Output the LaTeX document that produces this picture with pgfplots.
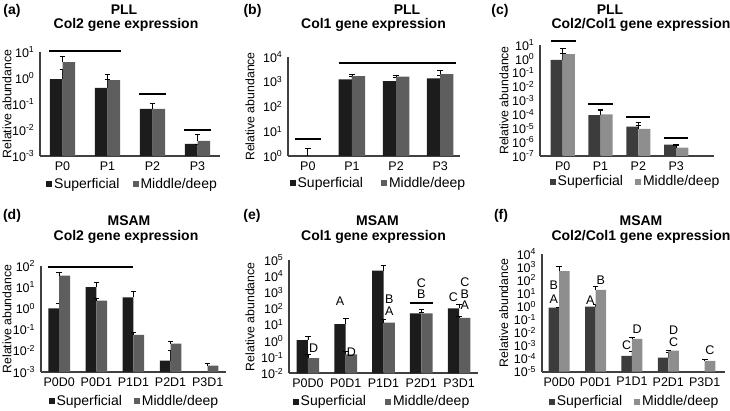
\documentclass[border=0pt]{standalone}
\usepackage{fontspec}
\setmainfont{Liberation Sans}
\usepackage{pgfplots}
\pgfplotsset{compat=1.18}

\definecolor{barA}{HTML}{1C1C1C}
\definecolor{barB}{HTML}{5E5E5E}
\definecolor{barC}{HTML}{3C3C3C}
\definecolor{barD}{HTML}{8E8E8E}
\definecolor{axgray}{HTML}{404040}

\newcommand{\tenp}[1]{10\textsuperscript{#1}}

\tikzset{
  ttl/.style={font=\fontsize{14}{16}\selectfont\bfseries},
  lett/.style={font=\fontsize{12.5}{14}\selectfont},
  sig/.style={black, line width=2pt},
}
\pgfplotsset{
  every axis/.append style={
    scale only axis, anchor=south west, clip=false,
    ymode=log, log origin=infty,
    axis x line=bottom, axis y line=left,
    axis line style={-, line width=2pt, draw=axgray},
    tick style={draw=none},
    ylabel={Relative abundance},
    label style={font=\fontsize{12.3}{14}\selectfont},
    xticklabel style={font=\fontsize{12.5}{14}\selectfont},
    yticklabel style={font=\fontsize{12.5}{14}\selectfont},
    legend columns=2,
    legend style={draw=none, fill=none, anchor=center, font=\fontsize{14}{16}\selectfont},
    legend image code/.code={\fill[##1] (0pt,-3pt) rectangle (6pt,3pt);},
    error bars/y dir=plus, error bars/y explicit,
    error bars/error mark=-,
    error bars/error bar style={line width=0.8pt, black},
    error bars/error mark options={rotate=90, line width=0.8pt, mark size=2.8pt, black},
  },
}

\begin{document}
\begin{tikzpicture}
\useasboundingbox (0,0) rectangle (730pt,411pt);

% ---------------- (a) PLL Col2
\node[ttl] at (12pt,400pt) {(a)};
\node[ttl] at (124pt,401pt) {PLL};
\node[ttl] at (126pt,386.5pt) {Col2 gene expression};
\begin{axis}[at={(40pt,255pt)}, width=180pt, height=104pt,
  xmin=-0.5, xmax=3.5, ymin=1e-3, ymax=10,
  xtick={0,1,2,3}, xticklabels={P0,P1,P2,P3},
  ytick={1e-3,1e-2,1e-1,1,10}, yticklabels={\tenp{-3},\tenp{-2},\tenp{-1},\tenp{0},\tenp{1}},
  ylabel style={at={(axis description cs:-0.183,0.5)}, anchor=center},
  legend style={at={(0.514,-0.269)}, /tikz/every even column/.append style={column sep=11pt}}]
\addplot[ybar, bar width=0.28, bar shift=-0.14, draw=none, fill=barA] table[x=x,y=y,y error=e]{
x y e
0 0.9 1.3
1 0.42 0.48
2 0.065 0.045
3 0.0029 0
};
\addlegendentry{Superficial}
\addplot[ybar, bar width=0.28, bar shift=0.14, draw=none, fill=barB] table[x=x,y=y,y error=e]{
x y e
0 4.1 2.9
1 0.83 0.57
2 0.065 0.045
3 0.0038 0.0027
};
\addlegendentry{Middle/deep}
\addplot[sig, forget plot] coordinates {(-0.3,11) (1.3,11)};
\addplot[sig, forget plot] coordinates {(1.7,0.24) (2.3,0.24)};
\addplot[sig, forget plot] coordinates {(2.7,0.01) (3.3,0.01)};
\end{axis}

% ---------------- (b) PLL Col1
\node[ttl] at (252.5pt,400pt) {(b)};
\node[ttl] at (407pt,401pt) {PLL};
\node[ttl] at (373.5pt,386.5pt) {Col1 gene expression};
\begin{axis}[at={(288pt,255pt)}, width=172pt, height=99pt,
  xmin=-0.45, xmax=3.45, ymin=1, ymax=1e4,
  xtick={0,1,2,3}, xticklabels={P0,P1,P2,P3},
  ytick={1,10,100,1000,10000}, yticklabels={\tenp{0},\tenp{1},\tenp{2},\tenp{3},\tenp{4}},
  ylabel style={at={(axis description cs:-0.221,0.5)}, anchor=center},
  legend style={at={(0.526,-0.273)}, /tikz/every even column/.append style={column sep=16pt}}]
\addplot[ybar, bar width=0.3, bar shift=-0.15, draw=none, fill=barA] table[x=x,y=y,y error=e]{
x y e
0 1.02 1.08
1 1250 350
2 1070 430
3 1380 370
};
\addlegendentry{Superficial}
\addplot[ybar, bar width=0.3, bar shift=0.15, draw=none, fill=barB] table[x=x,y=y,y error=e]{
x y e
0 1.02 1.08
1 1700 200
2 1600 220
3 2050 750
};
\addlegendentry{Middle/deep}
\addplot[sig, forget plot] coordinates {(-0.3,4.7) (0.3,4.7)};
\addplot[sig, forget plot] coordinates {(0.7,5900) (3.35,5900)};
\end{axis}

% ---------------- (c) PLL Col2/Col1
\node[ttl] at (500pt,400pt) {(c)};
\node[ttl] at (610pt,401pt) {PLL};
\node[ttl] at (641pt,386.5pt) {Col2/Col1 gene expression};
\begin{axis}[at={(540pt,255pt)}, width=174pt, height=111pt,
  xmin=-0.6, xmax=4.0, ymin=1e-7, ymax=10,
  xtick={0,1,2,3}, xticklabels={P0,P1,P2,P3},
  ytick={1e-7,1e-6,1e-5,1e-4,1e-3,1e-2,1e-1,1,10},
  yticklabels={\tenp{-7},\tenp{-6},\tenp{-5},\tenp{-4},\tenp{-3},\tenp{-2},\tenp{-1},\tenp{0},\tenp{1}},
  ylabel style={at={(axis description cs:-0.207,0.5)}, anchor=center},
  legend style={at={(0.549,-0.23)}, /tikz/every even column/.append style={column sep=10pt}}]
\addplot[ybar, bar width=0.32, bar shift=-0.16, draw=none, fill=barC] table[x=x,y=y,y error=e]{
x y e
0 0.83 1.47
1 9e-5 1.2e-4
2 1.3e-5 1.3e-5
3 6.5e-7 0
};
\addlegendentry{Superficial}
\addplot[ybar, bar width=0.32, bar shift=0.16, draw=none, fill=barD] table[x=x,y=y,y error=e]{
x y e
0 2.2 3.6
1 1.0e-4 0.8e-4
2 9e-6 8e-6
3 4e-7 1.7e-7
};
\addlegendentry{Middle/deep}
\addplot[sig, forget plot] coordinates {(-0.3,20) (0.35,20)};
\addplot[sig, forget plot] coordinates {(0.68,5.7e-4) (1.32,5.7e-4)};
\addplot[sig, forget plot] coordinates {(1.68,6.3e-5) (2.32,6.3e-5)};
\addplot[sig, forget plot] coordinates {(2.68,1.9e-6) (3.32,1.9e-6)};
\end{axis}

% ---------------- (d) MSAM Col2
\node[ttl] at (12pt,195pt) {(d)};
\node[ttl] at (129pt,190pt) {MSAM};
\node[ttl] at (126pt,174pt) {Col2 gene expression};
\begin{axis}[at={(40.7pt,39pt)}, width=185.5pt, height=106pt,
  xmin=-0.5, xmax=4.5, ymin=1e-3, ymax=100,
  xtick={0,1,2,3,4}, xticklabels={P0D0,P0D1,P1D1,P2D1,P3D1},
  ytick={1e-3,1e-2,1e-1,1,10,100}, yticklabels={\tenp{-3},\tenp{-2},\tenp{-1},\tenp{0},\tenp{1},\tenp{2}},
  ylabel style={at={(axis description cs:-0.182,0.5)}, anchor=center},
  legend style={at={(0.505,-0.274)}, /tikz/every even column/.append style={column sep=10pt}}]
\addplot[ybar, bar width=0.29, bar shift=-0.145, draw=none, fill=barA] table[x=x,y=y,y error=e]{
x y e
0 1.0 0.7
1 10 6
2 3.3 2.9
3 0.0034 0.0066
};
\addlegendentry{Superficial}
\addplot[ybar, bar width=0.29, bar shift=0.145, draw=none, fill=barB] table[x=x,y=y,y error=e]{
x y e
0 35 15
1 2.3 0.7
2 0.056 0.018
3 0.022 0.005
4 0.002 0.0005
};
\addlegendentry{Middle/deep}
\addplot[sig, forget plot] coordinates {(-0.29,87) (2.0,87)};
\end{axis}

% ---------------- (e) MSAM Col1
\node[ttl] at (252pt,195pt) {(e)};
\node[ttl] at (377.5pt,190pt) {MSAM};
\node[ttl] at (373.5pt,174pt) {Col1 gene expression};
\begin{axis}[at={(289pt,37.5pt)}, width=189pt, height=113.5pt,
  xmin=-0.5, xmax=4.5, ymin=1e-2, ymax=1e5,
  xtick={0,1,2,3,4}, xticklabels={P0D0,P0D1,P1D1,P2D1,P3D1},
  ytick={1e-2,1e-1,1,10,100,1000,1e4,1e5},
  yticklabels={\tenp{-2},\tenp{-1},\tenp{0},\tenp{1},\tenp{2},\tenp{3},\tenp{4},\tenp{5}},
  ylabel style={at={(axis description cs:-0.206,0.5)}, anchor=center},
  legend style={at={(0.492,-0.248)}, /tikz/every even column/.append style={column sep=17pt}}]
\addplot[ybar, bar width=0.3, bar shift=-0.15, draw=none, fill=barA] table[x=x,y=y,y error=e]{
x y e
0 1.15 0.85
1 11 14
2 22000 23000
3 51 40
4 105 81
};
\addlegendentry{Superficial}
\addplot[ybar, bar width=0.3, bar shift=0.15, draw=none, fill=barB] table[x=x,y=y,y error=e]{
x y e
0 0.09 0.06
1 0.15 0.09
2 13.5 8.5
3 51 8
4 27 5
};
\addlegendentry{Middle/deep}
\addplot[sig, forget plot] coordinates {(2.7,215) (3.3,215)};
\node[lett] at (axis cs:0.15,0.35) {D};
\node[lett] at (axis cs:0.85,270) {A};
\node[lett] at (axis cs:1.15,0.22) {D};
\node[lett] at (axis cs:2.15,380) {B};
\node[lett] at (axis cs:2.15,70) {A};
\node[lett] at (axis cs:3,3800) {C};
\node[lett] at (axis cs:3,760) {B};
\node[lett] at (axis cs:3.85,540) {C};
\node[lett] at (axis cs:4.15,4200) {C};
\node[lett] at (axis cs:4.15,800) {B};
\node[lett] at (axis cs:4.15,160) {A};
\end{axis}

% ---------------- (f) MSAM Col2/Col1
\node[ttl] at (501pt,195pt) {(f)};
\node[ttl] at (641pt,190pt) {MSAM};
\node[ttl] at (641pt,174pt) {Col2/Col1 gene expression};
\begin{axis}[at={(541.7pt,39.3pt)}, width=183pt, height=117.7pt,
  xmin=-0.48, xmax=4.55, ymin=1e-5, ymax=1e4,
  xtick={0,1,2,3,4}, xticklabels={P0D0,P0D1,P1D1,P2D1,P3D1},
  ytick={1e-5,1e-4,1e-3,1e-2,1e-1,1,10,100,1000,1e4},
  yticklabels={\tenp{-5},\tenp{-4},\tenp{-3},\tenp{-2},\tenp{-1},\tenp{0},\tenp{1},\tenp{2},\tenp{3},\tenp{4}},
  ylabel style={at={(axis description cs:-0.208,0.5)}, anchor=center},
  legend style={at={(0.508,-0.254)}, /tikz/every even column/.append style={column sep=10pt}}]
\addplot[ybar, bar width=0.29, bar shift=-0.145, draw=none, fill=barC] table[x=x,y=y,y error=e]{
x y e
0 0.78 0.04
1 0.93 0.57
2 1.65e-4 1.75e-4
3 1.2e-4 1.6e-4
};
\addlegendentry{Superficial}
\addplot[ybar, bar width=0.29, bar shift=0.145, draw=none, fill=barD] table[x=x,y=y,y error=e]{
x y e
0 500 570
1 18 14
2 3.2e-3 1.3e-3
3 4.1e-4 0.5e-4
4 6.6e-5 2.7e-5
};
\addlegendentry{Middle/deep}
\node[lett] at (axis cs:-0.145,40) {B};
\node[lett] at (axis cs:-0.145,3.4) {A};
\node[lett] at (axis cs:0.855,2.7) {A};
\node[lett] at (axis cs:1.145,102) {B};
\node[lett] at (axis cs:1.855,1.1e-3) {C};
\node[lett] at (axis cs:2.145,0.018) {D};
\node[lett] at (axis cs:3.145,0.016) {D};
\node[lett] at (axis cs:3.145,1.7e-3) {C};
\node[lett] at (axis cs:4.145,4.1e-4) {C};
\end{axis}
\end{tikzpicture}
\end{document}
